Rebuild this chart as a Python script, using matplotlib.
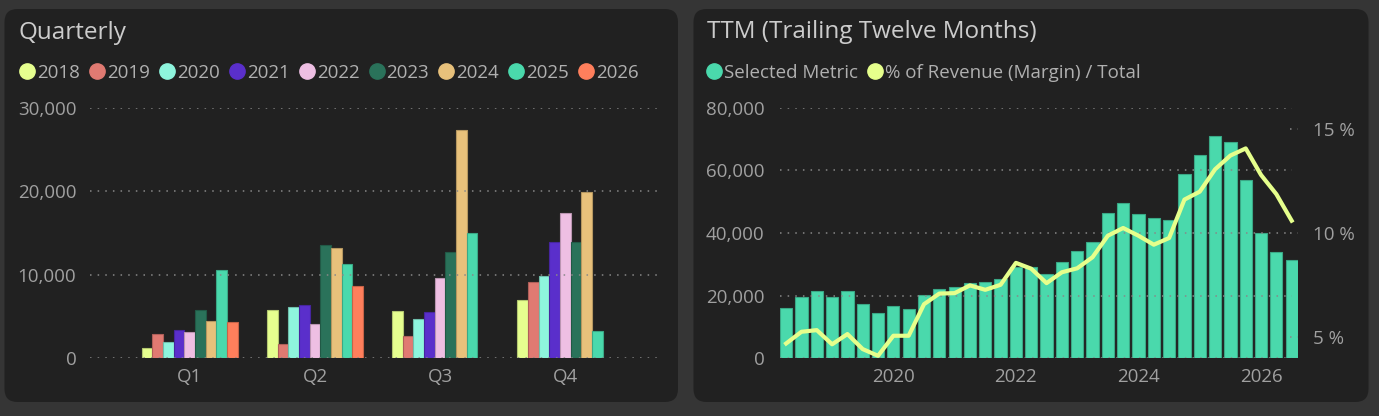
import matplotlib
matplotlib.use("Agg")
import matplotlib.pyplot as plt
import numpy as np
from matplotlib.lines import Line2D
from matplotlib.patches import FancyBboxPatch
from matplotlib.ticker import FuncFormatter

plt.rcParams['font.family'] = ['Open Sans', 'DejaVu Sans']

# quarterly values per year (Q1..Q4)
quarters = ["Q1", "Q2", "Q3", "Q4"]
years = ["2018", "2019", "2020", "2021", "2022", "2023", "2024", "2025", "2026"]
q_2018 = [1200, 5760, 5670, 6950]
q_2019 = [2960, 1760, 2715, 9180]
q_2020 = [1960, 6120, 4670, 9900]
q_2021 = [3360, 6360, 5550, 13930]
q_2022 = [3120, 4160, 9620, 17370]
q_2023 = [5840, 13560, 12730, 13930]
q_2024 = [4440, 13160, 27300, 19960]
q_2025 = [10520, 11280, 15010, 3270]
q_2026 = [4400, 8600, None, None]
year_colors = ["#E6FF8F", "#E07A72", "#8EF5DD", "#5A2FCB", "#EEBFE3",
               "#2A725A", "#E8C17B", "#4AD9AC", "#FF7F5C"]

# TTM values, one per quarter from 2018 Q1 to 2026 Q2
ttm_values = [16170, 19680, 21600, 19680, 21390, 17450, 14470, 16700, 15750,
              20110, 22020, 22660, 24050, 24370, 25220, 29260, 29050, 26920,
              30860, 34370, 37030, 46500, 49580, 46070, 44800, 44260, 58840,
              64800, 70860, 69050, 56820, 40110, 34050, 31280]
margin_pct = [4.71, 5.27, 5.35, 4.67, 5.16, 4.44, 4.12, 5.08, 5.08, 6.59,
              7.10, 7.12, 7.49, 7.28, 7.52, 8.57, 8.29, 7.60, 8.12, 8.31,
              8.84, 9.87, 10.24, 9.87, 9.44, 9.76, 11.60, 11.98, 13.05,
              13.71, 14.05, 12.78, 11.86, 10.59]
ttm_year_ticks = ["2020", "2022", "2024", "2026"]
ttm_tick_idx = [7, 15, 23, 31]

BG = "#353535"
PANEL = "#212121"
TITLE_C = "#cccccc"
LEG_C = "#b0b0b0"
TICK_C = "#a0a0a0"
GRID_C = "#888888"
TEAL = "#4AD9AC"
LINE_C = "#E6FF8C"

W, H = 1379, 416
fig = plt.figure(figsize=(W / 100, H / 100), dpi=100, facecolor=BG)

# panel backgrounds, in pixel units
bg = fig.add_axes([0, 0, 1, 1])
bg.set_xlim(0, W)
bg.set_ylim(H, 0)
bg.axis("off")
for x0, x1 in [(4.5, 678), (693.5, 1368.5)]:
    bg.add_patch(FancyBboxPatch((x0, 9), x1 - x0, 393, boxstyle="round,pad=0,rounding_size=13",
                                facecolor=PANEL, edgecolor="none"))


def fx(px):
    return px / W


def fy(py):
    return 1 - py / H


def darker(c, f=0.78):
    r, g, b = matplotlib.colors.to_rgb(c)
    return (r * f, g * f, b * f)


def dotted(ax, y, xmin=0, xmax=1, **kw):
    ax.axhline(y, xmin=xmin, xmax=xmax, color=GRID_C, lw=1.1,
               linestyle=(0, (1, 4)), zorder=2.5, **kw)


def style_axes(ax):
    for s in ax.spines.values():
        s.set_visible(False)
    ax.set_facecolor("none")
    ax.tick_params(length=0, colors=TICK_C, labelsize=13.5)


thousands = FuncFormatter(lambda v, p: f"{int(v):,}")

# ---------------- Quarterly ----------------
ax1 = fig.add_axes([fx(90.2), fy(358.3), fx(662 - 90.2), fy(107.7) - fy(358.3)])
style_axes(ax1)
year_series = [q_2018, q_2019, q_2020, q_2021, q_2022, q_2023, q_2024, q_2025, q_2026]
x = np.arange(len(quarters))
bw = 0.0852
for j, (vals, col) in enumerate(zip(year_series, year_colors)):
    v = np.array([np.nan if a is None else a for a in vals], dtype=float)
    ax1.bar(x + (j - 4) * bw, v, width=bw, color=col, edgecolor=darker(col),
            linewidth=0.8, zorder=2)
ax1.set_xlim(-0.795, 3.772)
ax1.set_ylim(0, 30000)
ax1.set_yticks([0, 10000, 20000, 30000])
ax1.yaxis.set_major_formatter(thousands)
ax1.set_xticks(x)
ax1.set_xticklabels(quarters)
ax1.tick_params(axis="y", pad=10)
ax1.tick_params(axis="x", pad=7)
for v in [0, 10000, 20000, 30000]:
    dotted(ax1, v)

fig.text(fx(18.3), fy(39), "Quarterly", color=TITLE_C, fontsize=17.5, va="baseline")
h1 = [Line2D([], [], marker="o", linestyle="none", markersize=11, color=c) for c in year_colors]
fig.legend(h1, years, loc="center left", bbox_to_anchor=(fx(19.2), fy(73)), ncol=9,
           frameon=False, fontsize=13.5, labelcolor=LEG_C, handlelength=0.8,
           handletextpad=0.13, columnspacing=0.52, borderpad=0, borderaxespad=0)

# ---------------- TTM ----------------
ax2 = fig.add_axes([fx(780), fy(358.3), fx(1297.8 - 780), fy(107.7) - fy(358.3)])
style_axes(ax2)
idx = np.arange(len(ttm_values))
ax2.bar(idx, ttm_values, width=0.8, color=TEAL, edgecolor="#3aa886", linewidth=0.8, zorder=2)
ax2.set_xlim(-0.4, len(ttm_values) - 0.6)
ax2.set_ylim(0, 80000)
ax2.set_yticks([0, 20000, 40000, 60000, 80000])
ax2.yaxis.set_major_formatter(thousands)
ax2.set_xticks(ttm_tick_idx)
ax2.set_xticklabels(ttm_year_ticks)
ax2.tick_params(axis="y", pad=11)
ax2.tick_params(axis="x", pad=7)
for v in [0, 20000, 40000, 60000, 80000]:
    dotted(ax2, v, xmax=0.988)

ax3 = ax2.twinx()
style_axes(ax3)
ax3.plot(idx, margin_pct, color=LINE_C, lw=3, solid_joinstyle="round", zorder=3)
ax3.set_ylim(4, 16)
ax3.set_yticks([5, 10, 15])
ax3.yaxis.set_major_formatter(FuncFormatter(lambda v, p: f"{int(v)} %"))
ax3.tick_params(axis="y", pad=11)
for v in [5, 10, 15]:
    dotted(ax3, v, xmin=0.985, xmax=1.0)

fig.text(fx(706.7), fy(38.5), "TTM (Trailing Twelve Months)", color=TITLE_C,
         fontsize=17.5, va="baseline")
h2 = [Line2D([], [], marker="o", linestyle="none", markersize=11, color=TEAL),
      Line2D([], [], marker="o", linestyle="none", markersize=11, color=LINE_C)]
fig.legend(h2, ["Selected Metric", "% of Revenue (Margin) / Total"], loc="center left",
           bbox_to_anchor=(fx(706.8), fy(73)), ncol=2, frameon=False, fontsize=13.5,
           labelcolor=LEG_C, handlelength=0.8, handletextpad=0.13, columnspacing=0.5,
           borderpad=0, borderaxespad=0)

fig.savefig("out.png", dpi=100, facecolor=BG)
